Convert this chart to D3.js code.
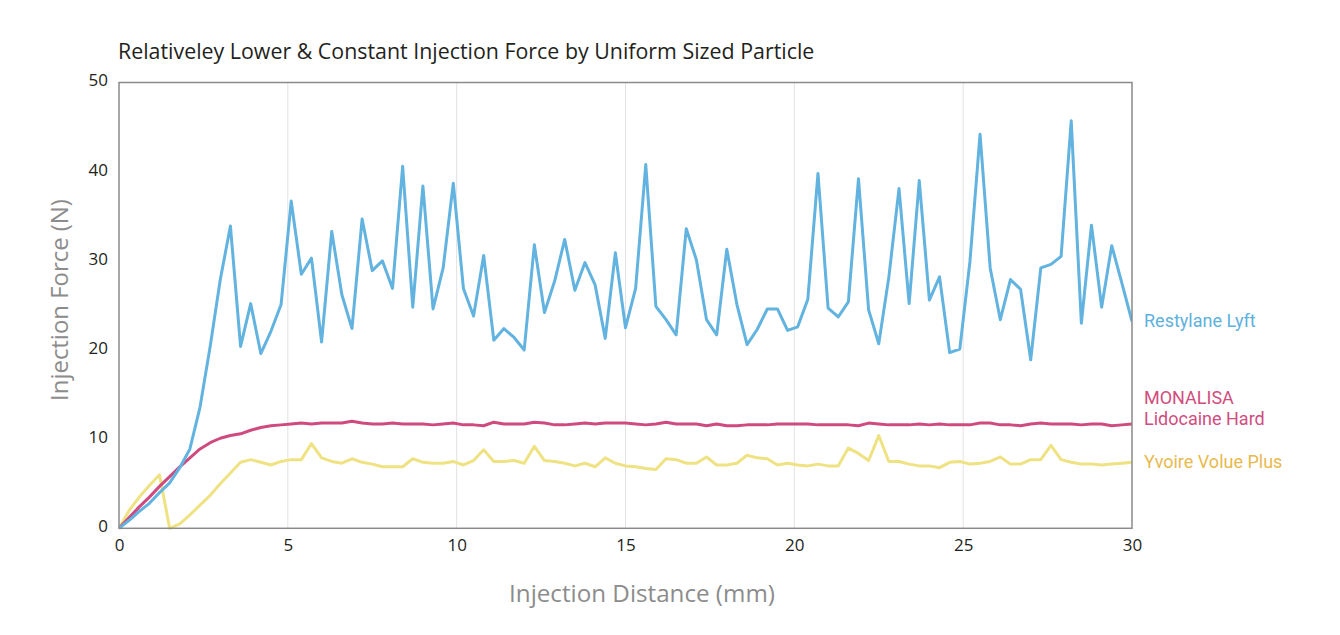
<!DOCTYPE html>
<html>
<head>
<meta charset="utf-8">
<script src="https://cdn.jsdelivr.net/npm/d3@7"></script>
<style>
  body { margin: 0; background: #fff; }
  text { font-family: "Open Sans", "Noto Sans", sans-serif; }
  text.end-label { font-family: Roboto, "Open Sans", sans-serif; }
</style>
</head>
<body>
<svg id="chart" width="1340" height="635"></svg>
<script>
// distance sampled every 0.3 mm
const distance = d3.range(101).map(i => +(i * 0.3).toFixed(1));

const restylane = [
  0, 0.9, 1.9, 2.8, 4.0, 5.1, 6.8, 8.9, 13.6, 20.4,
  27.9, 33.9, 20.4, 25.2, 19.6, 22.1, 25.1, 36.7, 28.5, 30.3,
  20.9, 33.3, 26.2, 22.4, 34.7, 28.9, 30.0, 26.9, 40.6, 24.8,
  38.4, 24.6, 29.2, 38.7, 26.9, 23.8, 30.6, 21.1, 22.4, 21.4,
  20.0, 31.8, 24.2, 27.7, 32.4, 26.7, 29.8, 27.3, 21.3, 30.9,
  22.5, 26.9, 40.8, 24.9, 23.4, 21.7, 33.6, 30.1, 23.4, 21.7,
  31.3, 25.1, 20.6, 22.3, 24.6, 24.6, 22.2, 22.6, 25.7, 39.8,
  24.7, 23.7, 25.4, 39.2, 24.5, 20.7, 28.2, 38.1, 25.2, 39.0,
  25.6, 28.2, 19.7, 20.1, 29.9, 44.2, 29.2, 23.4, 27.9, 26.8,
  18.9, 29.2, 29.6, 30.5, 45.7, 23.0, 34.0, 24.8, 31.7, 27.5,
  23.2
];

const monalisa = [
  0, 1.2, 2.4, 3.5, 4.7, 5.8, 6.9, 7.9, 8.9, 9.6,
  10.1, 10.4, 10.6, 11.0, 11.3, 11.5, 11.6, 11.7, 11.8, 11.7,
  11.8, 11.8, 11.8, 12.0, 11.8, 11.7, 11.7, 11.8, 11.7, 11.7,
  11.7, 11.6, 11.7, 11.8, 11.6, 11.6, 11.5, 11.9, 11.7, 11.7,
  11.7, 11.9, 11.8, 11.6, 11.6, 11.7, 11.8, 11.7, 11.8, 11.8,
  11.8, 11.7, 11.6, 11.7, 11.9, 11.7, 11.7, 11.7, 11.5, 11.7,
  11.5, 11.5, 11.6, 11.6, 11.6, 11.7, 11.7, 11.7, 11.7, 11.6,
  11.6, 11.6, 11.6, 11.5, 11.8, 11.7, 11.6, 11.6, 11.6, 11.7,
  11.6, 11.7, 11.6, 11.6, 11.6, 11.8, 11.8, 11.6, 11.6, 11.5,
  11.7, 11.8, 11.7, 11.7, 11.7, 11.6, 11.7, 11.7, 11.5, 11.6,
  11.7
];

const yvoire = [
  0, 2.0, 3.5, 4.8, 6.0, 0, 0.5, 1.5, 2.6, 3.7,
  5.0, 6.2, 7.4, 7.7, 7.4, 7.1, 7.5, 7.7, 7.7, 9.5,
  7.9, 7.5, 7.3, 7.8, 7.4, 7.2, 6.9, 6.9, 6.9, 7.8,
  7.4, 7.3, 7.3, 7.5, 7.1, 7.6, 8.8, 7.5, 7.5, 7.6,
  7.3, 9.2, 7.6, 7.5, 7.3, 7.0, 7.3, 6.9, 7.9, 7.3,
  7.0, 6.9, 6.7, 6.6, 7.8, 7.7, 7.3, 7.3, 8.0, 7.1,
  7.1, 7.3, 8.2, 7.9, 7.8, 7.1, 7.3, 7.1, 7.0, 7.2,
  7.0, 7.0, 9.0, 8.4, 7.6, 10.4, 7.5, 7.5, 7.2, 7.0,
  7.0, 6.8, 7.4, 7.5, 7.2, 7.3, 7.5, 8.0, 7.2, 7.2,
  7.7, 7.7, 9.3, 7.7, 7.4, 7.2, 7.2, 7.1, 7.2, 7.3,
  7.4
];

const xTicks = [0, 5, 10, 15, 20, 25, 30];
const yTicks = [0, 10, 20, 30, 40, 50];

const series = [
  { name: ["Restylane Lyft"], values: restylane, line: "#62b3df", label: "#5eb1dd" },
  { name: ["MONALISA", "Lidocaine Hard"], values: monalisa, line: "#cf4a7e", label: "#d04d7e" },
  { name: ["Yvoire Volue Plus"], values: yvoire, line: "#efe283", label: "#e8b94f" }
];

const svg = d3.select("#chart");
const margin = { left: 119, right: 1132, top: 82.5, bottom: 528.3 };

const x = d3.scaleLinear().domain([0, 30]).range([margin.left, margin.right]);
const y = d3.scaleLinear().domain([0, 50]).range([margin.bottom, margin.top]);

// shrink text so it spans the measured width of the original
function fitWidth(sel, width) {
  const size = parseFloat(sel.attr("font-size"));
  const w = sel.node().getComputedTextLength();
  sel.attr("font-size", size * width / w);
}

// title
svg.append("text")
  .attr("x", 118).attr("y", 59)
  .attr("font-size", 20).attr("fill", "#231f20")
  .text("Relativeley Lower & Constant Injection Force by Uniform Sized Particle")
  .call(fitWidth, 697);

// vertical grid lines
svg.append("g")
  .selectAll("line")
  .data(xTicks.slice(1, -1))
  .join("line")
  .attr("x1", d => x(d)).attr("x2", d => x(d))
  .attr("y1", y(50)).attr("y2", y(0))
  .attr("stroke", "#e2e2e2").attr("stroke-width", 1);

// axes (labels only, frame drawn separately)
const xAxis = svg.append("g")
  .attr("transform", `translate(0,${y(0)})`)
  .call(d3.axisBottom(x).tickValues(xTicks).tickSize(0).tickPadding(11));
xAxis.select(".domain").remove();
xAxis.selectAll("text").attr("font-size", 17).attr("fill", "#231f20")
  .style("font-family", '"Open Sans", sans-serif');

const yAxis = svg.append("g")
  .attr("transform", `translate(${x(0)},0)`)
  .call(d3.axisLeft(y).tickValues(yTicks).tickSize(0).tickPadding(11));
yAxis.select(".domain").remove();
yAxis.selectAll("text").attr("font-size", 17).attr("fill", "#231f20")
  .attr("dy", "0.2em")
  .style("font-family", '"Open Sans", sans-serif');

// lines
const line = d3.line()
  .x((d, i) => x(distance[i]))
  .y(d => y(d));

svg.append("clipPath").attr("id", "plot-clip")
  .append("rect")
  .attr("x", x(0)).attr("y", y(50) - 2)
  .attr("width", x(30) - x(0)).attr("height", y(0) - y(50) + 4);

svg.append("g")
  .attr("clip-path", "url(#plot-clip)")
  .selectAll("path")
  .data(series.slice().reverse())
  .join("path")
  .attr("d", d => line(d.values))
  .attr("fill", "none")
  .attr("stroke", d => d.line)
  .attr("stroke-width", 3)
  .attr("stroke-linejoin", "round");

// frame
svg.append("rect")
  .attr("x", x(0)).attr("y", y(50))
  .attr("width", x(30) - x(0)).attr("height", y(0) - y(50))
  .attr("fill", "none")
  .attr("stroke", "#8a8a8a")
  .attr("stroke-width", 1.5);

// end labels
series.forEach(s => {
  const last = s.values[s.values.length - 1];
  const base = y(last) + (s.name.length > 1 ? 1.5 : 6);
  s.name.forEach((n, k) => {
    svg.append("text")
      .attr("class", "end-label")
      .attr("x", 1144)
      .attr("y", base - (s.name.length - 1 - k) * 21.5)
      .attr("font-size", 18)
      .attr("fill", s.label)
      .text(n);
  });
});

// axis titles
svg.append("text")
  .attr("x", 642).attr("y", 602)
  .attr("text-anchor", "middle")
  .attr("font-size", 25).attr("fill", "#8c8c8c")
  .text("Injection Distance (mm)")
  .call(fitWidth, 266);

svg.append("text")
  .attr("transform", "translate(68,300) rotate(-90)")
  .attr("text-anchor", "middle")
  .attr("font-size", 25).attr("fill", "#8c8c8c")
  .text("Injection Force (N)")
  .call(fitWidth, 202);
</script>
</body>
</html>
